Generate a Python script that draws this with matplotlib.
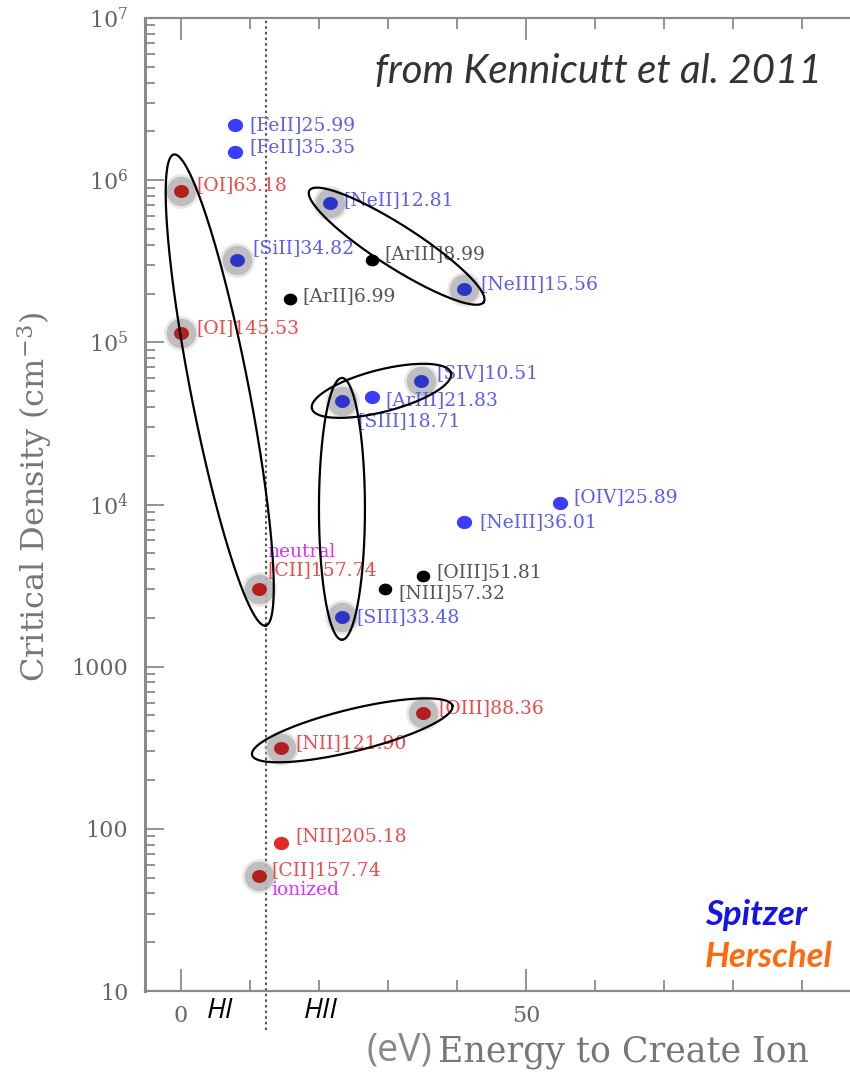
import matplotlib.pyplot as plt
import numpy as np
from matplotlib.ticker import FixedLocator, FixedFormatter, NullFormatter
from matplotlib.transforms import blended_transform_factory

plt.rcParams['font.family'] = 'DejaVu Serif'
plt.rcParams['mathtext.default'] = 'regular'

# fine-structure lines: name, energy to create ion (eV), critical density (cm^-3)
lines = ['[FeII]25.99', '[FeII]35.35', '[OI]63.18', '[SiII]34.82', '[NeII]12.81',
         '[ArIII]8.99', '[ArII]6.99', '[NeIII]15.56', '[OI]145.53', '[SIV]10.51',
         '[ArIII]21.83', '[SIII]18.71', '[OIV]25.89', '[NeIII]36.01', '[CII]157.74',
         '[OIII]51.81', '[NIII]57.32', '[SIII]33.48', '[OIII]88.36', '[NII]121.90',
         '[NII]205.18', '[CII]157.74']
energy = [7.90, 7.90, 0.0, 8.15, 21.56, 27.63, 15.76, 40.96, 0.0, 34.79,
          27.63, 23.34, 54.94, 40.96, 11.26, 35.12, 29.60, 23.34, 35.12, 14.53,
          14.53, 11.26]
ncrit = [2.2e6, 1.5e6, 8.6e5, 3.2e5, 7.2e5, 3.2e5, 1.85e5, 2.13e5, 1.14e5, 5.8e4,
         4.6e4, 4.35e4, 1.02e4, 7.8e3, 3.0e3, 3.6e3, 3.0e3, 2.03e3, 519, 316,
         82, 51]
# 's' = Spitzer, 'h' = Herschel, 'o' = other
mission = ['s', 's', 'h', 's', 's', 'o', 'o', 's', 'h', 's',
           's', 's', 's', 's', 'h', 'o', 'o', 's', 'h', 'h',
           'h', 'h']
halo = [0, 0, 1, 1, 1, 0, 0, 1, 1, 1,
        0, 1, 0, 0, 1, 0, 0, 1, 1, 1,
        0, 1]
# label offsets in pixels
label_dx = [14, 14, 15, 15, 14, 13, 13, 17, 15, 15, 14, 15, 13, 16, 9, 13, 13, 14, 15, 14, 14, 13]
label_dy = [0, 5, 6, 12, 3, 6, 3, 5, 5, 8, -3, -20, 6, 0, 19, 4, -4, 0, 5, 5, 7, 6]

# groups circled together: (first line, last line, end padding px, width px)
groups = [(2, 14, 37, 58), (4, 7, 24, 42), (11, 9, 31, 42), (11, 17, 23, 46), (19, 18, 30, 42)]

ytick_vals = [10, 100, 1000, 1e4, 1e5, 1e6, 1e7]
ytick_labels = ['10', '100', '1000', '10$^{4}$', '10$^{5}$', '10$^{6}$', '10$^{7}$']

dot_col = {'s': '#3a3cff', 'h': '#e02a2a', 'o': 'black'}
halo_dot_col = {'s': '#2b36c9', 'h': '#b31f1f', 'o': 'black'}
text_col = {'s': '#5d5df2', 'h': '#ee4a4a', 'o': '#555555'}

fig = plt.figure(figsize=(8.5, 10.72), dpi=100)
ax = fig.add_axes([145 / 850, 81 / 1072, 705 / 850, 973 / 1072])
ax.set_yscale('log')
ax.set_xlim(-5.2, 96.96)
ax.set_ylim(10, 1e7)

for sp in ['left', 'bottom', 'top']:
    ax.spines[sp].set_color('#8a8a8a')
ax.spines['left'].set_linewidth(2.2)
ax.spines['bottom'].set_linewidth(1.6)
ax.spines['top'].set_linewidth(1.6)
ax.spines['right'].set_visible(False)

ax.xaxis.set_major_locator(FixedLocator([0, 50, 100]))
ax.xaxis.set_minor_locator(FixedLocator([10, 20, 30, 40, 60, 70, 80, 90]))
ax.yaxis.set_major_locator(FixedLocator(ytick_vals))
ax.yaxis.set_major_formatter(FixedFormatter(ytick_labels))
ax.yaxis.set_minor_locator(FixedLocator([m * 10.0 ** k for k in range(1, 7) for m in range(2, 10)]))
ax.yaxis.set_minor_formatter(NullFormatter())
ax.tick_params(which='both', direction='in', top=True, right=False, color='#8a8a8a', width=1.3)
ax.tick_params(axis='x', which='major', length=16, pad=10, labelsize=16, labelcolor='#666666')
ax.tick_params(axis='x', which='minor', length=8)
ax.tick_params(axis='y', which='major', length=14, pad=12, labelsize=16, labelcolor='#666666')
ax.tick_params(axis='y', which='minor', length=7)

# HI / HII boundary
bt = blended_transform_factory(ax.transData, ax.transAxes)
ax.plot([12.4, 12.4], [-0.04, 1.0], transform=bt, color='#555555', ls=(0, (1.2, 1.5)),
        lw=1.5, clip_on=False)
ax.text(5.6, -0.021, 'HI', transform=bt, family='Open Sans', style='italic', fontsize=20,
        ha='center', va='center')
ax.text(20.3, -0.021, 'HII', transform=bt, family='Open Sans', style='italic', fontsize=20,
        ha='center', va='center')

t = np.linspace(0, 2 * np.pi, 60)
dot = np.c_[1.15 * np.cos(t), np.sin(t)]

for i in range(len(lines)):
    m = mission[i]
    if halo[i]:
        ax.scatter(energy[i], ncrit[i], s=620, color='#c4c4c4', alpha=0.4, lw=0, zorder=2)
        ax.scatter(energy[i], ncrit[i], s=450, color='#b4b4b4', alpha=0.8, lw=0, zorder=2)
        ax.scatter(energy[i], ncrit[i], s=115, marker=dot, color=halo_dot_col[m], lw=0, zorder=3)
    else:
        size = 95 if m == 'o' else 120
        ax.scatter(energy[i], ncrit[i], s=size, marker=dot, color=dot_col[m], lw=0, zorder=3)
    ax.annotate(lines[i], (energy[i], ncrit[i]), xytext=(label_dx[i], label_dy[i]),
                textcoords='offset pixels', color=text_col[m], fontsize=13.5,
                ha='left', va='center', zorder=4)

# neutral / ionized tags for the two [CII] entries
ax.annotate('neutral', (energy[14], ncrit[14]), xytext=(9, 37), textcoords='offset pixels',
            color='#dd33ff', fontsize=13.5, ha='left', va='center')
ax.annotate('ionized', (energy[21], ncrit[21]), xytext=(13, -14), textcoords='offset pixels',
            color='#dd33ff', fontsize=13.5, ha='left', va='center')


def ring(i, j, pad, width):
    p = ax.transData.transform([(energy[i], ncrit[i]), (energy[j], ncrit[j])])
    c = p.mean(axis=0)
    d = p[1] - p[0]
    a = np.hypot(d[0], d[1]) / 2 + pad
    ang = np.arctan2(d[1], d[0])
    u = np.linspace(0, 2 * np.pi, 300)
    ex, ey = a * np.cos(u), width / 2 * np.sin(u)
    xy = np.c_[c[0] + ex * np.cos(ang) - ey * np.sin(ang),
               c[1] + ex * np.sin(ang) + ey * np.cos(ang)]
    xy = ax.transData.inverted().transform(xy)
    ax.plot(xy[:, 0], xy[:, 1], color='black', lw=1.6, zorder=5)


for g in groups:
    ring(*g)

fig.text(35 / 850, 1 - 497 / 1072, 'Critical Density (cm$^{-3}$)', fontsize=23,
         color='#777777', rotation=90, ha='center', va='center')
fig.text(432 / 850, 1 - 1050 / 1072, '(eV)', family='Open Sans', fontsize=27,
         color='#888888', ha='right', va='center')
fig.text(438 / 850, 1 - 1052 / 1072, 'Energy to Create Ion', fontsize=25,
         color='#777777', ha='left', va='center')

fig.text(822 / 850, 1 - 83 / 1072, 'from Kennicutt et al. 2011', family='Lato',
         style='italic', fontsize=29, color='#333333', ha='right', va='baseline')
fig.text(705 / 850, 1 - 915 / 1072, 'Spitzer', family='Lato', style='italic',
         weight='bold', fontsize=25, color='#1414e6', ha='left', va='center')
fig.text(705 / 850, 1 - 957 / 1072, 'Herschel', family='Lato', style='italic',
         weight='bold', fontsize=25, color='#ff6a0d', ha='left', va='center')

fig.savefig('out.png', dpi=100)
